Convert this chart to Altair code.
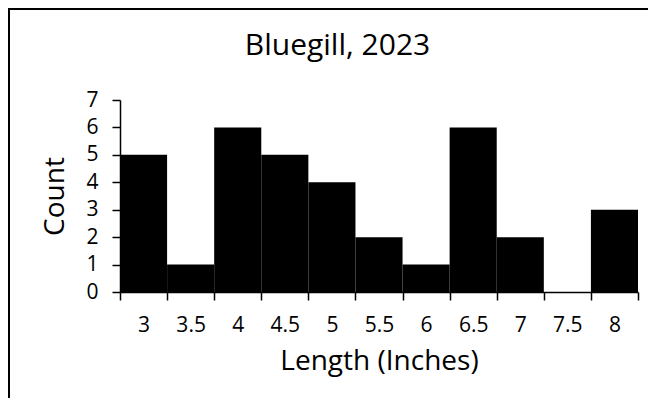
import altair as alt
import pandas as pd

# ---- data ----
lengths = ["3", "3.5", "4", "4.5", "5", "5.5", "6", "6.5", "7", "7.5", "8"]
counts = [5, 1, 6, 5, 4, 2, 1, 6, 2, 0, 3]
y_ticks = [0, 1, 2, 3, 4, 5, 6, 7]
chart_title = "Bluegill, 2023"
x_title = "Length (Inches)"
y_title = "Count"

FONT = "Open Sans"
W, H = 518, 192

df = pd.DataFrame({"length": lengths, "count": counts})

bars = alt.Chart(df).mark_bar(color="black").encode(
    x=alt.X(
        "length:N",
        sort=lengths,
        scale=alt.Scale(paddingInner=0, paddingOuter=0),
        axis=alt.Axis(
            title=x_title,
            labelAngle=0,
            tickBand="extent",
            tickSize=8,
            labelPadding=14,
            titlePadding=12,
            domainWidth=1.5,
            tickWidth=1.5,
        ),
    ),
    y=alt.Y(
        "count:Q",
        scale=alt.Scale(domain=[0, 7], nice=False),
        axis=alt.Axis(
            title=y_title,
            values=y_ticks,
            tickSize=8,
            labelPadding=14,
            titlePadding=16,
            domainWidth=1.5,
            tickWidth=1.5,
        ),
    ),
)

frame = alt.Chart(pd.DataFrame({"k": [0]})).mark_rect(
    fillOpacity=0, stroke="black", strokeWidth=2
).encode(
    x=alt.value(-111), x2=alt.value(548), y=alt.value(-91), y2=alt.value(330)
)

title = alt.Chart(pd.DataFrame({"t": [chart_title]})).mark_text(
    font=FONT, fontSize=30, baseline="alphabetic", align="center", color="black"
).encode(text="t:N", x=alt.value(217.5), y=alt.value(-45))

chart = alt.layer(frame, bars, title).properties(
    width=W,
    height=H,
    padding={"left": 112, "top": 92, "right": 10, "bottom": 106},
    autosize=alt.AutoSizeParams(type="none"),
    background="white",
).configure_view(stroke="transparent").configure_axis(
    labelFont=FONT,
    titleFont=FONT,
    labelFontSize=21,
    titleFontSize=28,
    titleFontWeight="normal",
    labelColor="black",
    titleColor="black",
    domainColor="black",
    tickColor="black",
    grid=False,
)

chart.save("out.html", embed_options={"renderer": "svg", "actions": False})
